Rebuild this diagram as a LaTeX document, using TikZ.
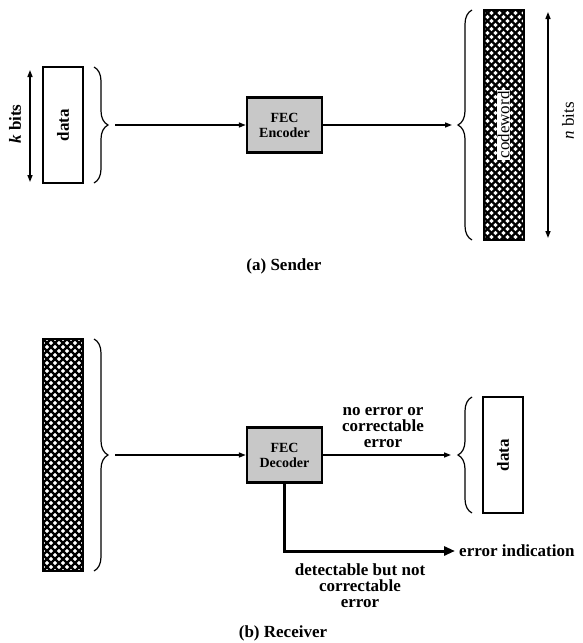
\documentclass[tikz,border=0pt]{standalone}
\usepackage{fontspec}
\setmainfont{Liberation Serif}
\usepackage{tikz}
\usetikzlibrary{arrows.meta,positioning,calc,decorations.pathreplacing}
\definecolor{boxgray}{HTML}{C8C8C8}

\tikzset{
  >={Triangle[length=7pt,width=5pt]},
  lbl/.style={font=\fontsize{17}{16}\selectfont\bfseries, align=center},
  fecbox/.style={draw, line width=2.4pt, fill=boxgray, minimum width=75pt, minimum height=55pt,
    inner sep=0pt, font=\fontsize{14}{15}\selectfont\bfseries, align=center},
  databox/.style={draw, line width=2pt, fill=white, minimum width=40pt, minimum height=116pt, inner sep=0pt},
  meshbar/.style={draw, line width=2pt, fill=white, minimum width=40pt, minimum height=232pt, inner sep=0pt,
    path picture={\foreach \k in {-18,...,18}{
      \draw[line width=2.3pt] ($(path picture bounding box.center)+(8*\k-130,-130)$) -- ++(260,260);
      \draw[line width=2.3pt] ($(path picture bounding box.center)+(8*\k-130,130)$) -- ++(260,-260);}}},
  curly/.style={decorate, decoration={brace, amplitude=14pt}, line width=1.2pt},
  flow/.style={->, line width=1.5pt},
}

\begin{document}
\begin{tikzpicture}[x=1pt, y=-1pt]
\useasboundingbox (0,0) rectangle (582,643);
% (a) sender
\node[databox] (kdata) at (63,125) {};
\node[lbl, rotate=90] (kdatalbl) at (kdata) {data};
\coordinate (ktop) at (30,70);
\coordinate (kbot) at (30,182);
\draw[<->, line width=1.5pt] (ktop) -- (kbot);
\node[lbl, rotate=90] (klbl) at (15,124) {\textit{k} bits};
\draw[curly] (94,67) -- (94,183);
\coordinate (kbrace) at (108,125);
\node[fecbox] (enc) at (284.5,125) {FEC\\Encoder};
\draw[flow, shorten <=7pt] (kbrace) -- (enc);
\draw[curly] (472,240) -- (472,10);
\coordinate (nbrace) at (457,125);
\draw[flow, shorten >=5pt] (enc) -- (nbrace);
\node[meshbar, minimum height=230pt] (cw) at (503.5,125) {};
\node[rotate=90, fill=white, inner sep=1pt, font=\fontsize{17}{17}\selectfont] (cwlbl) at (cw) {codeword};
\coordinate (ntop) at (548,12);
\coordinate (nbot) at (548,238);
\draw[<->, line width=1.5pt] (ntop) -- (nbot);
\node[rotate=90, font=\fontsize{17}{17}\selectfont] (nlbl) at (568,121) {\textit{n} bits};
\node[lbl] (sender) at (284,266) {(a) Sender};
% (b) receiver
\node[meshbar] (rcw) at (63,455) {};
\draw[curly] (94,339) -- (94,571);
\coordinate (rbrace) at (108,455);
\node[fecbox] (dec) at (284.5,455) {FEC\\Decoder};
\draw[flow, shorten <=7pt] (rbrace) -- (dec);
\node[databox] (rdata) at (503,455) {};
\node[lbl, rotate=90] (rdatalbl) at (rdata) {data};
\draw[curly] (472,513) -- (472,397);
\coordinate (dbrace) at (457,455);
\draw[flow, shorten >=6pt] (dec) -- (dbrace);
\node[lbl] (okl) at (383,428) {no error or\\correctable\\error};
\node[lbl, anchor=west, inner sep=4pt] (errind) at (455,551) {error indication};
\draw[->, line width=3pt, >={Triangle[length=11pt,width=9pt]}] (dec) |- (errind);
\node[lbl] (badl) at (360,586) {detectable but not\\correctable\\error};
\node[lbl] (receiver) at (283,633) {(b) Receiver};
\end{tikzpicture}
\end{document}
